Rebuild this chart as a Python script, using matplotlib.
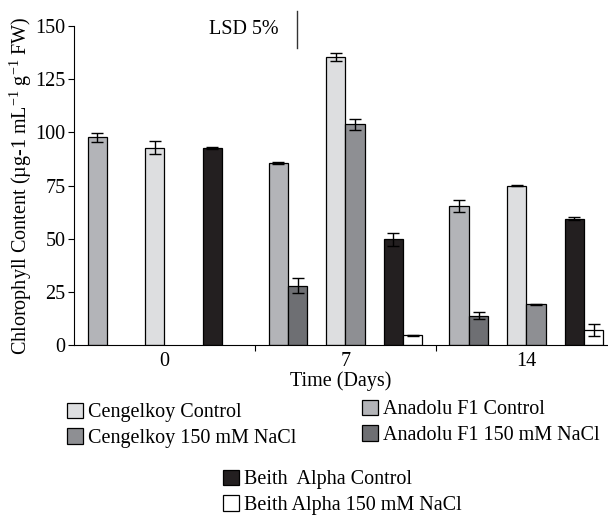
import matplotlib
matplotlib.use("Agg")
import matplotlib.pyplot as plt
import numpy as np
from matplotlib.patches import Patch

plt.rcParams["font.family"] = ["Liberation Serif", "DejaVu Serif"]
plt.rcParams["mathtext.fontset"] = "custom"
plt.rcParams["mathtext.rm"] = "Liberation Serif"

days = ["0", "7", "14"]

# bar order inside each day group
series = [
    "Anadolu F1 Control",
    "Anadolu F1 150 mM NaCl",
    "Cengelkoy Control",
    "Cengelkoy 150 mM NaCl",
    "Beith  Alpha Control",
    "Beith Alpha 150 mM NaCl",
]
colors = ["#b3b4b8", "#6e6f73", "#dddee0", "#8e8f93", "#231f20", "#ffffff"]

anadolu_ctrl = [97.6, 85.6, 65.4]
anadolu_nacl = [np.nan, 27.9, 13.8]
cengel_ctrl = [92.8, 135.3, 74.9]
cengel_nacl = [np.nan, 103.8, 19.1]
beith_ctrl = [92.8, 49.7, 59.5]
beith_nacl = [np.nan, 4.5, 7.0]

anadolu_ctrl_err = [2.0, 0.3, 2.9]
anadolu_nacl_err = [0, 3.5, 1.6]
cengel_ctrl_err = [3.0, 1.8, 0.2]
cengel_nacl_err = [0, 2.6, 0.3]
beith_ctrl_err = [0.5, 3.1, 0.5]
beith_nacl_err = [0, 0.3, 2.9]

values = [anadolu_ctrl, anadolu_nacl, cengel_ctrl, cengel_nacl, beith_ctrl, beith_nacl]
errors = [anadolu_ctrl_err, anadolu_nacl_err, cengel_ctrl_err, cengel_nacl_err,
          beith_ctrl_err, beith_nacl_err]

lsd = 17.4
fs = 14.5

fig = plt.figure(figsize=(6.08, 5.15), dpi=100)
ax = fig.add_axes([0.1217, 0.330, 0.878, 0.6194])

x = np.arange(len(days))
w = 0.107
pair_shift = 0.318
offsets = []
for p in (-1, 0, 1):
    offsets += [p * pair_shift - w / 2, p * pair_shift + w / 2]

for vals, errs, col, off in zip(values, errors, colors, offsets):
    ax.bar(x + off, vals, w, color=col, edgecolor="black", linewidth=0.9, zorder=2)
    ax.errorbar(x + off, vals, yerr=errs, fmt="none", ecolor="black",
                elinewidth=1, capsize=4, capthick=1, zorder=3)

ax.set_xlim(-0.5, 2.45)
ax.set_ylim(0, 150)
ax.set_yticks([0, 25, 50, 75, 100, 125, 150])
ax.tick_params(axis="y", labelsize=fs, direction="out", length=4, pad=2)
ax.set_xticks([0.5, 1.5])
ax.set_xticklabels([])
ax.tick_params(axis="x", which="major", direction="out", length=4)
ax.set_xticks(x, minor=True)
ax.set_xticklabels(days, minor=True)
ax.tick_params(axis="x", which="minor", length=0, labelsize=fs, pad=5)
ax.spines["top"].set_visible(False)
ax.spines["right"].set_visible(False)

ax.set_xlabel("Time (Days)", fontsize=fs, labelpad=0)
ax.set_ylabel(r"Chlorophyll Content (µg-1 mL$^{-1}$ g$^{-1}$ FW)", fontsize=fs, labelpad=1)

# LSD bar
ax.plot([0.732, 0.732], [139.6, 139.6 + lsd], color="#333333", lw=1, clip_on=False)
ax.text(0.633, 148.4, "LSD 5%", ha="right", va="center", fontsize=fs)

handles = [Patch(facecolor=c, edgecolor="black", linewidth=0.9) for c in colors]
leg_kw = dict(frameon=False, fontsize=fs, handlelength=0.8, handleheight=0.8,
              handletextpad=0.25, labelspacing=0.3, borderpad=0, borderaxespad=0)
fig.legend([handles[2], handles[3]], [series[2], series[3]], loc="upper left",
           bbox_to_anchor=(0.110, 0.218), **leg_kw)
fig.legend([handles[0], handles[1]], [series[0], series[1]], loc="upper left",
           bbox_to_anchor=(0.595, 0.224), **leg_kw)
fig.legend([handles[4], handles[5]], [series[4], series[5]], loc="upper left",
           bbox_to_anchor=(0.366, 0.088), **leg_kw)

fig.savefig("out.png", dpi=100)
